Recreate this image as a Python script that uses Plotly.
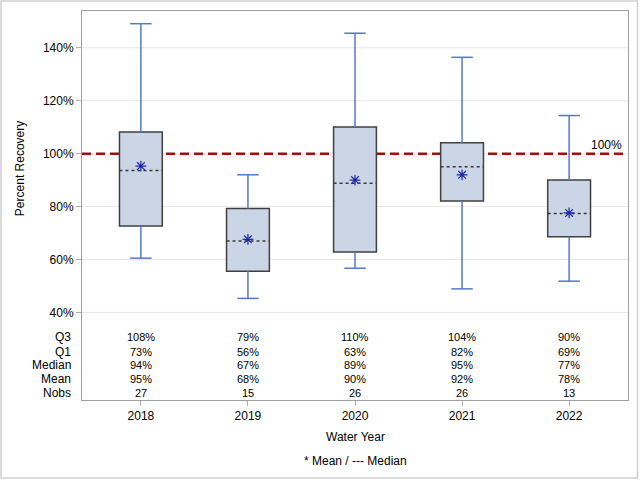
import plotly.graph_objects as go

years = ["2018", "2019", "2020", "2021", "2022"]
upper_whisker = [149.1, 92.0, 145.5, 136.4, 114.4]
q3 = [108.2, 79.3, 110.1, 104.1, 90.0]
median = [93.6, 67.0, 88.8, 95.0, 77.4]
mean = [95.3, 67.6, 90.0, 92.0, 77.6]
q1 = [72.7, 55.6, 62.8, 82.1, 68.6]
lower_whisker = [60.5, 45.3, 56.7, 48.9, 51.8]
nobs = [27, 15, 26, 26, 13]
y_ticks = [40, 60, 80, 100, 120, 140]
ref_value = 100

FONT = "Liberation Sans, Arial, sans-serif"
pos = list(range(len(years)))
BOX_W = 0.4
CAP_W = 0.2
X_RANGE = [-0.55, 4.55]

fig = go.Figure()

# gridlines, then reference line (both beneath the traces)
for t in y_ticks:
    fig.add_shape(type="line", xref="paper", x0=0, x1=1, yref="y", y0=t, y1=t,
                  line=dict(color="#e8e8e8", width=1), layer="below")
fig.add_shape(type="line", xref="paper", x0=0, x1=1, yref="y", y0=ref_value, y1=ref_value,
              line=dict(color="#a30d0d", width=2.5, dash="9px,5px"), layer="below")

# box bodies
fig.add_trace(go.Bar(
    x=pos, y=[a - b for a, b in zip(q3, q1)], base=q1, width=BOX_W,
    marker=dict(color="#cad5e5", line=dict(color="#404040", width=1.5)),
    showlegend=False, hoverinfo="skip"))

# whiskers with caps
wx, wy = [], []
for p, lo, a, b, hi in zip(pos, lower_whisker, q1, q3, upper_whisker):
    wx += [p, p, None, p, p, None,
           p - CAP_W / 2, p + CAP_W / 2, None, p - CAP_W / 2, p + CAP_W / 2, None]
    wy += [b, hi, None, a, lo, None, hi, hi, None, lo, lo, None]
fig.add_trace(go.Scatter(x=wx, y=wy, mode="lines",
                         line=dict(color="#5577cc", width=1.5),
                         showlegend=False, hoverinfo="skip"))

# dashed medians
mx, my = [], []
for p, m in zip(pos, median):
    mx += [p - BOX_W / 2, p + BOX_W / 2, None]
    my += [m, m, None]
fig.add_trace(go.Scatter(x=mx, y=my, mode="lines",
                         line=dict(color="#3a3a3a", width=1.5, dash="3px,3px"),
                         showlegend=False, hoverinfo="skip"))
# means
fig.add_trace(go.Scatter(x=pos, y=mean, mode="markers",
                         marker=dict(symbol="asterisk-open", size=9, color="#1f2aa8",
                                     line=dict(color="#1f2aa8", width=1.2)),
                         showlegend=False, hoverinfo="skip"))

fig.add_annotation(xref="paper", x=0.993, yref="y", y=ref_value, xanchor="right", yanchor="bottom",
                   text=f"{ref_value}%", showarrow=False, yshift=0,
                   font=dict(family=FONT, size=12, color="#000"))

# statistics table
rows = [("Q3", [f"{v:.0f}%" for v in q3], 0.161),
        ("Q1", [f"{v:.0f}%" for v in q1], 0.124),
        ("Median", [f"{v:.0f}%" for v in median], 0.089),
        ("Mean", [f"{v:.0f}%" for v in mean], 0.053),
        ("Nobs", [str(v) for v in nobs], 0.017)]
for label, vals, yy in rows:
    fig.add_annotation(xref="paper", x=-0.0165, yref="paper", y=yy, xanchor="right", yanchor="middle",
                       text=label, showarrow=False, font=dict(family=FONT, size=12, color="#000"))
    for p, v in zip(pos, vals):
        fig.add_annotation(xref="x", x=p, yref="paper", y=yy, xanchor="center", yanchor="middle",
                           text=v, showarrow=False, font=dict(family=FONT, size=11, color="#000"))

# titles
fig.add_annotation(xref="paper", x=-0.1136, yref="paper", y=0.596, textangle=-90,
                   text="Percent Recovery", showarrow=False, xanchor="center", yanchor="middle",
                   font=dict(family=FONT, size=12, color="#000"))
fig.add_annotation(xref="paper", x=0.5, yref="paper", y=-0.0951, text="Water Year",
                   showarrow=False, xanchor="center", yanchor="middle",
                   font=dict(family=FONT, size=12, color="#000"))
fig.add_annotation(xref="paper", x=0.5, yref="paper", y=-0.157, text="* Mean / --- Median",
                   showarrow=False, xanchor="center", yanchor="middle",
                   font=dict(family=FONT, size=12, color="#000"))

# outer border
fig.add_shape(type="rect", xref="paper", yref="paper",
              x0=(1 - 82) / 546, x1=(637.5 - 82) / 546, y0=(400 - 478) / 389, y1=(400 - 1) / 389,
              line=dict(color="#d0d0d0", width=1.5), fillcolor="rgba(0,0,0,0)", layer="below")

fig.update_layout(
    width=640, height=480,
    margin=dict(l=82, r=12, t=11, b=80),
    paper_bgcolor="white", plot_bgcolor="white",
    font=dict(family=FONT, size=12, color="#000"),
    xaxis=dict(range=X_RANGE, tickvals=pos, ticktext=years, showgrid=False, zeroline=False,
               showline=True, mirror=True, linecolor="#a0a0a0", linewidth=1,
               ticks="outside", ticklen=5, tickcolor="#b0b0b0",
               tickfont=dict(family=FONT, size=12, color="#000")),
    yaxis=dict(range=[6.9, 153.9], tickvals=y_ticks, ticktext=[f"{t}%" for t in y_ticks],
               showgrid=False, zeroline=False,
               showline=True, mirror=True, linecolor="#a0a0a0", linewidth=1,
               ticks="outside", ticklen=5, tickcolor="#b0b0b0",
               tickfont=dict(family=FONT, size=12, color="#000")),
)

fig.write_html("out.html", config={"displayModeBar": False},
               post_script="document.body.style.margin='0';document.body.style.overflow='hidden';")
